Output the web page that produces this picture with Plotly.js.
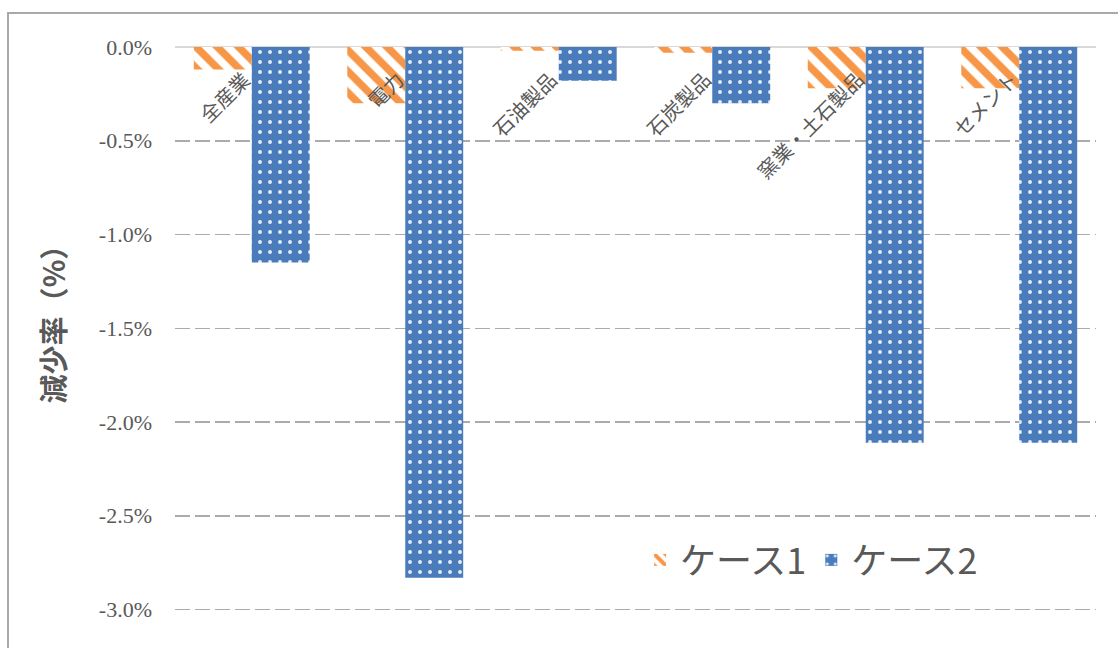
<!DOCTYPE html>
<html>
<head>
<meta charset="utf-8">
<script src="https://cdn.plot.ly/plotly-3.0.1.min.js"></script>
<style>
  html, body { margin: 0; padding: 0; background: #ffffff; }
  #wrap { position: relative; width: 1118px; height: 648px; overflow: hidden; }
  #chart { position: absolute; left: 0; top: 0; width: 1118px; height: 648px; }
  #frame { position: absolute; left: 7px; top: 12px; width: 1300px; height: 1000px;
           border: 2px solid #a9a9a9; pointer-events: none; }
</style>
</head>
<body>
<div id="wrap">
  <div id="chart"></div>
  <div id="frame"></div>
</div>
<script>
// ---- data ----
const categories = ["全産業", "電力", "石油製品", "石炭製品", "窯業・土石製品", "セメント"];
const case1 = [-0.12, -0.30, -0.02, -0.03, -0.22, -0.22];
const case2 = [-1.15, -2.83, -0.18, -0.30, -2.11, -2.11];
const seriesNames = ["ケース1", "ケース2"];
const yTickVals = [0, -0.5, -1.0, -1.5, -2.0, -2.5, -3.0];
const yTickText = ["0.0%", "-0.5%", "-1.0%", "-1.5%", "-2.0%", "-2.5%", "-3.0%"];
const yTitle = "減少率（%）";

const textColor = "#595959";
const orange = "#f79646";
const blue = "#4a7cbb";
const cjk = "Noto Sans CJK JP";
const serif = "Liberation Serif, Times New Roman, Noto Serif, Noto Serif CJK JP, DejaVu Serif, FreeSerif, serif";

const traces = [
  {
    type: "bar", name: seriesNames[0], x: categories, y: case1,
    marker: {
      color: orange,
      line: { width: 0 },
      pattern: { shape: "\\", fgcolor: orange, bgcolor: "#ffffff", fgopacity: 1,
                 size: 15, solidity: 0.5, fillmode: "overlay" }
    },
    hoverinfo: "skip"
  },
  {
    type: "bar", name: seriesNames[1], x: categories, y: case2,
    marker: {
      color: blue,
      line: { width: 0 },
      pattern: { shape: ".", fgcolor: "#ffffff", bgcolor: blue, fgopacity: 0.85,
                 size: 10, solidity: 0.12, fillmode: "overlay" }
    },
    hoverinfo: "skip"
  }
];

const annotations = categories.map(c => ({
  x: c, y: 0, xref: "x", yref: "y",
  text: c, showarrow: false, textangle: -45,
  xanchor: "right", yanchor: "top",
  xshift: 7, yshift: -15,
  font: { family: cjk, size: 20, color: textColor }
}));
annotations.push({
  xref: "paper", yref: "paper", x: -0.134, y: 0.55,
  xanchor: "center", yanchor: "middle", textangle: -90, showarrow: false,
  text: yTitle,
  font: { family: cjk, size: 29, color: textColor, weight: "bold" }
});

const layout = {
  width: 1118, height: 648,
  margin: { l: 175, r: 22, t: 47, b: 1, pad: 0 },
  paper_bgcolor: "rgba(0,0,0,0)",
  plot_bgcolor: "rgba(0,0,0,0)",
  barmode: "group",
  bargap: 0.245,
  bargroupgap: 0,
  showlegend: true,
  legend: {
    orientation: "h", x: 0.505, y: 0.145, xanchor: "left", yanchor: "middle",
    font: { family: cjk, size: 36, color: textColor },
    bgcolor: "rgba(0,0,0,0)", traceorder: "normal", itemwidth: 30
  },
  xaxis: {
    type: "category", showticklabels: false, ticks: "", showgrid: false,
    zeroline: false, showline: false, fixedrange: true
  },
  yaxis: {
    range: [-3.2, 0], tickvals: yTickVals, ticktext: yTickText,
    ticks: "", ticklabelstandoff: 22,
    tickfont: { family: serif, size: 22, color: textColor },
    showgrid: true, gridcolor: "#ababab", gridwidth: 1.5, griddash: "15px,5px",
    zeroline: true, zerolinecolor: "#d9d9d9", zerolinewidth: 1.5,
    showline: false, fixedrange: true
  },
  annotations: annotations
};

Plotly.newPlot("chart", traces, layout, { staticPlot: true, displayModeBar: false });
</script>
</body>
</html>
